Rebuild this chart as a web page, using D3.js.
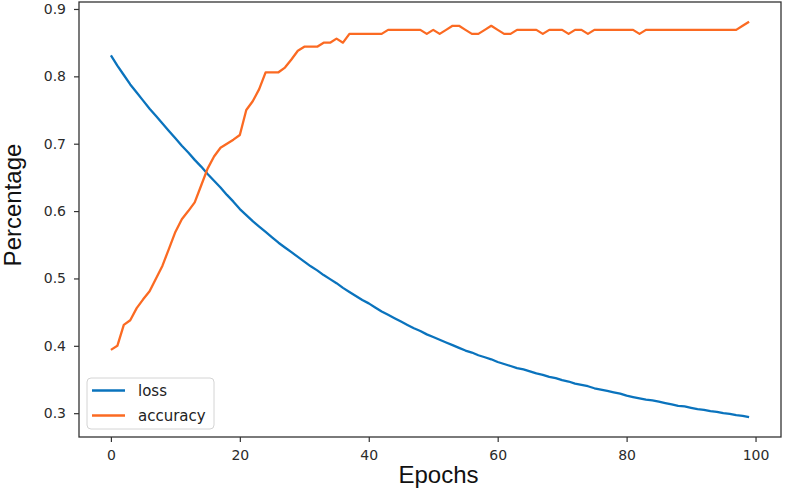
<!DOCTYPE html>
<html>
<head>
<meta charset="utf-8">
<script src="https://cdn.jsdelivr.net/npm/d3@7"></script>
<style>
  body { margin: 0; background: #fff; }
  .tick text { font-family: "DejaVu Sans", sans-serif; font-size: 14px; fill: #2b2b2b; }
  .tick line { stroke: #333; stroke-width: 1.2px; }
  .label { font-family: "Liberation Sans", Arial, sans-serif; font-size: 24px; fill: #111; }
  .legend text { font-family: "DejaVu Sans", sans-serif; font-size: 15px; fill: #222; }
</style>
</head>
<body>
<div id="chart"></div>
<script>
// per-epoch values
var loss = [
  0.831, 0.816, 0.802, 0.788, 0.776, 0.764, 0.752, 0.741, 0.730, 0.719,
  0.708, 0.697, 0.687, 0.676, 0.666, 0.655, 0.645, 0.635, 0.624, 0.614,
  0.603, 0.594, 0.585, 0.577, 0.569, 0.561, 0.553, 0.546, 0.539, 0.532,
  0.525, 0.518, 0.512, 0.505, 0.499, 0.493, 0.486, 0.480, 0.474, 0.468,
  0.463, 0.457, 0.451, 0.446, 0.441, 0.436, 0.431, 0.426, 0.422, 0.417,
  0.413, 0.409, 0.405, 0.401, 0.397, 0.393, 0.390, 0.386, 0.383, 0.380,
  0.376, 0.373, 0.370, 0.367, 0.365, 0.362, 0.359, 0.357, 0.354, 0.352,
  0.349, 0.347, 0.344, 0.342, 0.340, 0.337, 0.335, 0.333, 0.331, 0.329,
  0.326, 0.324, 0.322, 0.320, 0.319, 0.317, 0.315, 0.313, 0.311, 0.310,
  0.308, 0.306, 0.305, 0.303, 0.302, 0.300, 0.299, 0.297, 0.296, 0.294
];

var accuracy = [
  0.394, 0.400, 0.431, 0.438, 0.456, 0.469, 0.481, 0.500, 0.519, 0.544,
  0.569, 0.588, 0.600, 0.613, 0.638, 0.663, 0.681, 0.694, 0.700, 0.706,
  0.713, 0.750, 0.763, 0.781, 0.806, 0.806, 0.806, 0.813, 0.825, 0.838,
  0.844, 0.844, 0.844, 0.850, 0.850, 0.856, 0.850, 0.863, 0.863, 0.863,
  0.863, 0.863, 0.863, 0.869, 0.869, 0.869, 0.869, 0.869, 0.869, 0.863,
  0.869, 0.863, 0.869, 0.875, 0.875, 0.869, 0.863, 0.863, 0.869, 0.875,
  0.869, 0.863, 0.863, 0.869, 0.869, 0.869, 0.869, 0.863, 0.869, 0.869,
  0.869, 0.863, 0.869, 0.869, 0.863, 0.869, 0.869, 0.869, 0.869, 0.869,
  0.869, 0.869, 0.863, 0.869, 0.869, 0.869, 0.869, 0.869, 0.869, 0.869,
  0.869, 0.869, 0.869, 0.869, 0.869, 0.869, 0.869, 0.869, 0.875, 0.881
];

var epochs = d3.range(loss.length);
var seriesNames = ["loss", "accuracy"];
var xTicks = [0, 20, 40, 60, 80, 100];
var yTicks = [0.3, 0.4, 0.5, 0.6, 0.7, 0.8, 0.9];

var colors = { loss: "#0a73bd", accuracy: "#fb6a22" };

// set the dimensions and margins of the graph
var margin = {top: 2, right: 4, bottom: 53, left: 79},
    width = 785 - margin.left - margin.right,
    height = 490 - margin.top - margin.bottom;

// matplotlib-like 5% padding around the data
function padded(ext) {
  var p = (ext[1] - ext[0]) * 0.05;
  return [ext[0] - p, ext[1] + p];
}

var x = d3.scaleLinear()
    .domain(padded(d3.extent(epochs)))
    .range([0, width]);
var y = d3.scaleLinear()
    .domain(padded(d3.extent(loss.concat(accuracy))))
    .range([height, 0]);

var svg = d3.select("#chart").append("svg")
    .attr("width", 785)
    .attr("height", 490)
  .append("g")
    .attr("transform", "translate(" + margin.left + "," + margin.top + ")");

var series = { loss: loss, accuracy: accuracy };

seriesNames.forEach(function(name) {
  var line = d3.line()
      .x(function(d, i) { return x(epochs[i]); })
      .y(function(d) { return y(d); });
  svg.append("path")
      .datum(series[name])
      .attr("d", line)
      .attr("fill", "none")
      .attr("stroke", colors[name])
      .attr("stroke-width", 2.3)
      .attr("stroke-linejoin", "round");
});

// axes
var xAxis = d3.axisBottom(x).tickValues(xTicks).tickSize(5).tickPadding(8);
var yAxis = d3.axisLeft(y).tickValues(yTicks).tickFormat(d3.format(".1f")).tickSize(5).tickPadding(8);

svg.append("g")
    .attr("transform", "translate(0," + height + ")")
    .call(xAxis)
    .call(function(g) { g.select(".domain").remove(); });

svg.append("g")
    .call(yAxis)
    .call(function(g) { g.select(".domain").remove(); });

// frame
svg.append("rect")
    .attr("width", width)
    .attr("height", height)
    .attr("fill", "none")
    .attr("stroke", "#333")
    .attr("stroke-width", 1.3);

// axis labels
svg.append("text")
    .attr("class", "label")
    .attr("text-anchor", "middle")
    .attr("x", 438.5 - margin.left)
    .attr("y", 483 - margin.top)
    .text("Epochs");

svg.append("text")
    .attr("class", "label")
    .attr("text-anchor", "middle")
    .attr("transform", "translate(" + (21 - margin.left) + "," + (205 - margin.top) + ") rotate(-90)")
    .text("Percentage");

// legend
var legend = svg.append("g")
    .attr("class", "legend")
    .attr("transform", "translate(" + (87 - margin.left) + "," + (378 - margin.top) + ")");

legend.append("rect")
    .attr("width", 127)
    .attr("height", 51)
    .attr("rx", 4)
    .attr("fill", "#fff")
    .attr("fill-opacity", 0.8)
    .attr("stroke", "#d4d4d4");

seriesNames.forEach(function(name, i) {
  var ly = 12.5 + i * 25;
  legend.append("line")
      .attr("x1", 5).attr("x2", 38)
      .attr("y1", ly).attr("y2", ly)
      .attr("stroke", colors[name])
      .attr("stroke-width", 2.3);
  legend.append("text")
      .attr("x", 51)
      .attr("y", ly + 5)
      .text(name);
});
</script>
</body>
</html>
